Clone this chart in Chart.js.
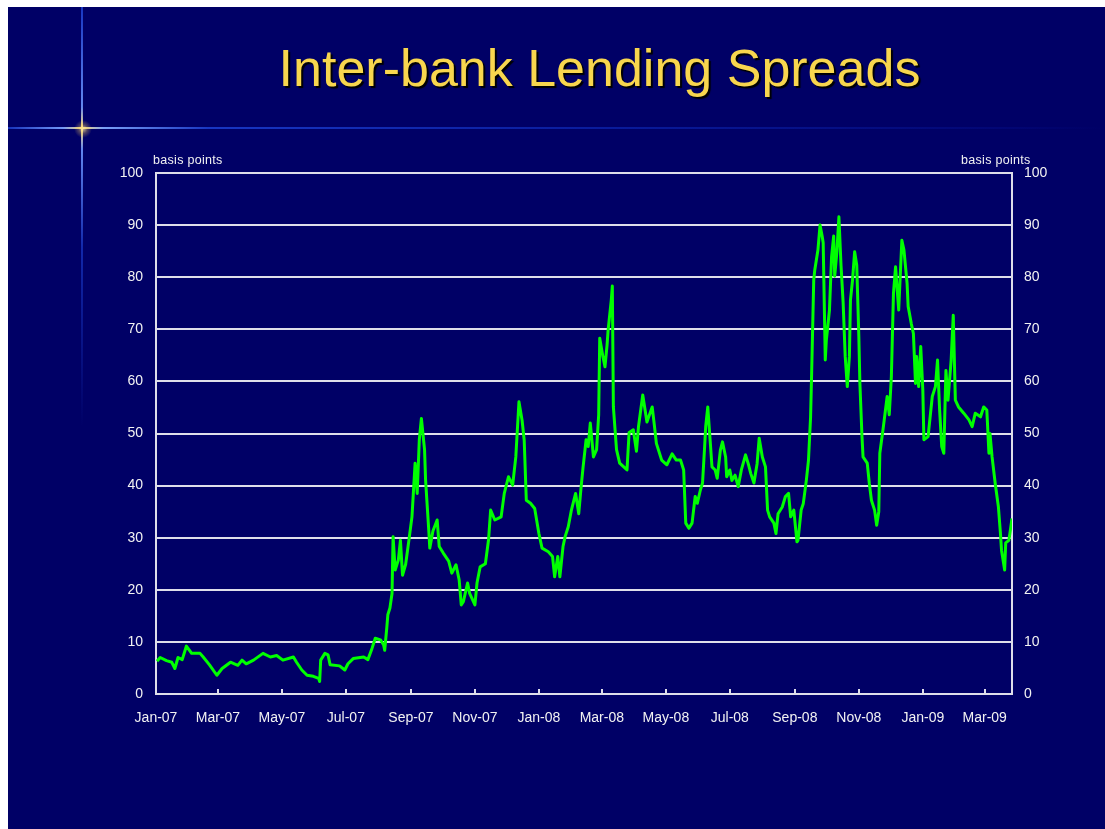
<!DOCTYPE html>
<html>
<head>
<meta charset="utf-8">
<title>Inter-bank Lending Spreads</title>
<script src="https://cdn.jsdelivr.net/npm/chart.js"></script>
<style>
  html, body { margin: 0; padding: 0; background: #ffffff; }
  body { width: 1105px; height: 829px; position: relative; overflow: hidden; font-family: "Liberation Sans", Arial, sans-serif; }
  .slide { position: absolute; left: 8px; top: 7px; width: 1097px; height: 822px; background: #000066; }
  .hline { position: absolute; left: 8px; top: 127px; width: 1097px; height: 2px;
    background: linear-gradient(to right, rgba(40,90,255,0.55) 0px, rgba(120,160,255,0.95) 55px, rgba(255,220,120,1) 74px, rgba(130,170,255,0.95) 95px, rgba(40,90,255,0.6) 200px, rgba(20,60,220,0.45) 600px, rgba(10,30,180,0.18) 1000px, rgba(0,0,102,0) 1097px); }
  .vline { position: absolute; left: 81px; top: 7px; width: 2px; height: 420px;
    background: linear-gradient(to bottom, rgba(40,90,255,0.6) 0px, rgba(110,150,255,0.9) 100px, rgba(255,220,120,1) 121px, rgba(110,150,255,0.9) 142px, rgba(40,90,255,0.45) 240px, rgba(0,0,102,0) 420px); }
  .glint { position: absolute; left: 74px; top: 120px; width: 18px; height: 18px; border-radius: 50%;
    background: radial-gradient(circle, rgba(255,235,160,0.8) 0%, rgba(255,210,90,0.3) 35%, rgba(0,0,102,0) 70%); }
  canvas { position: absolute; left: 0; top: 0; }
  .title { position: absolute; left: 0; top: 42px; width: 1199px; text-align: center;
    font-size: 52px; line-height: 52px; color: #F8D64E; white-space: nowrap;
    text-shadow: 2px 2px 1px #000000; }
  .unit { position: absolute; top: 153px; font-size: 12.5px; line-height: 14px; color: #f2f2f2; letter-spacing: 0.3px; white-space: nowrap; }
</style>
</head>
<body>
<div class="slide"></div>
<div class="hline"></div>
<div class="vline"></div>
<div class="glint"></div>
<canvas id="chart" width="1105" height="829"></canvas>
<div class="title">Inter-bank Lending Spreads</div>
<div class="unit" style="left:153px;">basis points</div>
<div class="unit" style="left:961px;">basis points</div>
<script>
// Observation dates, as days elapsed since 1 January 2007
const days = [1,4,10,15,18,21,25,29,34,42,45,51,58,63,71,78,82,86,93,102,109,115,121,131,134,139,144,150,155,156,
  157,161,164,166,175,180,183,188,198,202,206,209,214,217,218,220,221,223,225,226,228,231,233,235,238,241,244,247,249,251,
  253,256,257,260,261,264,268,270,274,279,282,286,289,291,293,297,299,304,306,309,314,317,319,323,329,332,336,340,343,346,
  349,351,353,357,361,365,368,374,378,380,383,385,388,390,393,396,400,403,405,407,410,412,414,417,420,422,423,426,428,430,
  431,434,435,436,439,442,449,451,455,458,460,464,468,473,475,477,482,487,492,496,500,503,505,508,511,514,516,519,521,523,
  524,526,528,530,533,535,538,540,543,544,547,549,552,555,558,562,565,567,570,573,575,578,581,583,585,589,591,593,597,600,
  603,605,608,611,612,615,617,620,622,624,625,627,628,631,633,635,636,638,639,642,644,646,647,649,651,653,655,657,659,661,
  662,664,666,668,670,671,673,674,678,680,682,685,687,689,690,693,697,699,701,703,705,708,711,713,716,717,720,722,724,725,
  727,729,731,732,736,740,743,745,747,749,751,753,755,758,760,762,765,770,775,778,781,786,789,792,794,795,797,800,803,805,
  806,809,810,813,814,816];

// Inter-bank lending spread, basis points
const spreads = [6.3,7.0,6.4,6.1,4.9,7.0,6.6,9.2,7.8,7.8,7.1,5.6,3.6,4.9,6.1,5.5,6.5,5.8,6.5,7.8,7.1,7.4,6.5,7.1,6.1,4.6,3.6,3.4,3.0,2.4,
  6.5,7.8,7.5,5.6,5.4,4.6,5.8,6.8,7.1,6.6,8.8,10.7,10.4,9.4,8.4,12.7,15.2,16.5,19.3,30.2,23.8,25.7,29.5,22.8,24.9,29.4,34,44.3,38.5,48.8,
  52.9,46.9,41,31.5,28,31.3,33.4,28.3,27,25.5,23.2,24.8,21.9,17.1,17.7,21.3,19.3,17.1,21.3,24.4,25,29.6,35.3,33.4,34,38.5,41.7,40.1,45.5,56.1,
  52.5,48.7,37.2,36.6,35.6,30.8,28,27.3,26.4,22.5,26.4,22.5,28.3,30.2,32.1,35.3,38.5,34.6,39.2,43.3,48.8,47.5,52,45.5,46.9,53.6,68.3,64.8,62.8,67,
  69.9,75.6,78.3,55.1,46.9,44.3,43,50.2,50.7,46.6,51.4,57.4,52.2,55.1,51.7,48.1,44.9,44,46.1,44.9,44.9,43,32.8,31.8,32.8,37.9,36.6,39.2,40.5,47.5,
  51.3,55.1,49.4,43.6,43,41.4,46.8,48.4,45.5,41.7,43,41,42,39.8,43,45.9,43.9,42.3,40.5,44.2,49.1,45.5,43.6,35.3,34,32.8,30.8,34.6,35.9,37.9,
  38.5,34,35.3,29.2,29.5,35.3,36.5,41.1,44.9,53.2,61.5,79.5,81.4,85.2,90,87.9,86.6,64.1,67.9,73.7,83.9,87.9,80.2,84.7,91.6,82.3,75.2,64.8,59,64.8,
  75.6,79.5,84.9,82.3,68.6,59.6,49.4,45.5,44.3,40.4,37.2,35.3,32.4,35,46.2,50.7,57.1,53.6,60.9,76.9,82,73.7,87.1,85.2,78.8,74.4,71.1,69.2,59.6,64.8,
  59,66.7,58.3,48.8,49.4,57.1,59,64.1,54.5,47.5,46.2,62.1,56.4,64.1,72.7,56.4,55.1,53.9,52.6,51.3,53.9,53.2,55.1,54.5,46.2,50,45.5,40.4,36,30.8,
  27.6,23.8,29,29.5,30.8,33.7];

// Axis labels
const xTickLabels = ['Jan-07','Mar-07','May-07','Jul-07','Sep-07','Nov-07','Jan-08','Mar-08','May-08','Jul-08','Sep-08','Nov-08','Jan-09','Mar-09'];
const yTickLabels = [0,10,20,30,40,50,60,70,80,90,100];

const MONTHS = ['Jan','Feb','Mar','Apr','May','Jun','Jul','Aug','Sep','Oct','Nov','Dec'];
const DAY_MS = 86400000;
const ORIGIN = Date.UTC(2007, 0, 1);
// Day offset of the first day of the month named by a 'Mon-YY' label
function labelDay(lbl) {
  const [m, y] = lbl.split('-');
  return Math.round((Date.UTC(2000 + Number(y), MONTHS.indexOf(m), 1) - ORIGIN) / DAY_MS);
}
const xTickDays = xTickLabels.map(labelDay);
const xLabelAt = new Map(xTickDays.map((d, i) => [d, xTickLabels[i]]));

const INK = '#f2f2f2';
const RULE = '#dedeea';
const tickFont = { family: '"Liberation Sans", Arial, sans-serif', size: 14 };

// Short tick marks pointing up into the plot from the date axis
const innerTicks = {
  id: 'innerTicks',
  afterDatasetsDraw(chart) {
    const x = chart.scales.x, ctx = chart.ctx, bottom = chart.chartArea.bottom;
    ctx.save();
    ctx.strokeStyle = RULE;
    ctx.lineWidth = 2;
    xTickDays.forEach(d => {
      const px = Math.round(x.getPixelForValue(d));
      ctx.beginPath();
      ctx.moveTo(px, bottom);
      ctx.lineTo(px, bottom - 5);
      ctx.stroke();
    });
    ctx.restore();
  }
};

const chart = new Chart(document.getElementById('chart'), {
  type: 'line',
  data: {
    datasets: [{
      data: days.map((d, i) => ({ x: d, y: spreads[i] })),
      borderColor: '#00ff00',
      borderWidth: 3,
      borderJoinStyle: 'round',
      pointRadius: 0,
      tension: 0,
      fill: false
    }]
  },
  options: {
    responsive: false,
    animation: false,
    events: [],
    layout: { padding: { left: 8, right: 40, top: 170, bottom: 60 } },
    plugins: { legend: { display: false }, tooltip: { enabled: false }, title: { display: false } },
    scales: {
      x: {
        type: 'linear',
        min: 0,
        max: days[days.length - 1],
        afterBuildTicks: s => { s.ticks = xTickDays.map(v => ({ value: v })); },
        ticks: {
          autoSkip: false, maxRotation: 0, minRotation: 0,
          color: INK, font: tickFont, padding: 16,
          callback: v => xLabelAt.get(v) || ''
        },
        grid: { display: true, drawOnChartArea: false, drawTicks: false },
        border: { display: true, color: RULE, width: 2 }
      },
      y: {
        position: 'left',
        min: 0, max: 100,
        afterBuildTicks: s => { s.ticks = yTickLabels.map(v => ({ value: v })); },
        ticks: { color: INK, font: tickFont, padding: 13 },
        grid: { color: RULE, lineWidth: 2, drawTicks: false },
        border: { display: true, color: RULE, width: 2 }
      },
      y2: {
        position: 'right',
        min: 0, max: 100,
        afterBuildTicks: s => { s.ticks = yTickLabels.map(v => ({ value: v })); },
        ticks: { color: INK, font: tickFont, padding: 12 },
        grid: { display: true, drawOnChartArea: false, drawTicks: false },
        border: { display: true, color: RULE, width: 2 }
      }
    }
  },
  plugins: [innerTicks]
});

// Settle the plot frame inside the slide
const frame = { left: 156, top: 173, right: 1012, bottom: 694 };
for (let k = 0; k < 3; k++) {
  const a = chart.chartArea, p = chart.options.layout.padding;
  p.left += frame.left - a.left;
  p.top += frame.top - a.top;
  p.right += a.right - frame.right;
  p.bottom += a.bottom - frame.bottom;
  chart.update();
}
</script>
</body>
</html>
